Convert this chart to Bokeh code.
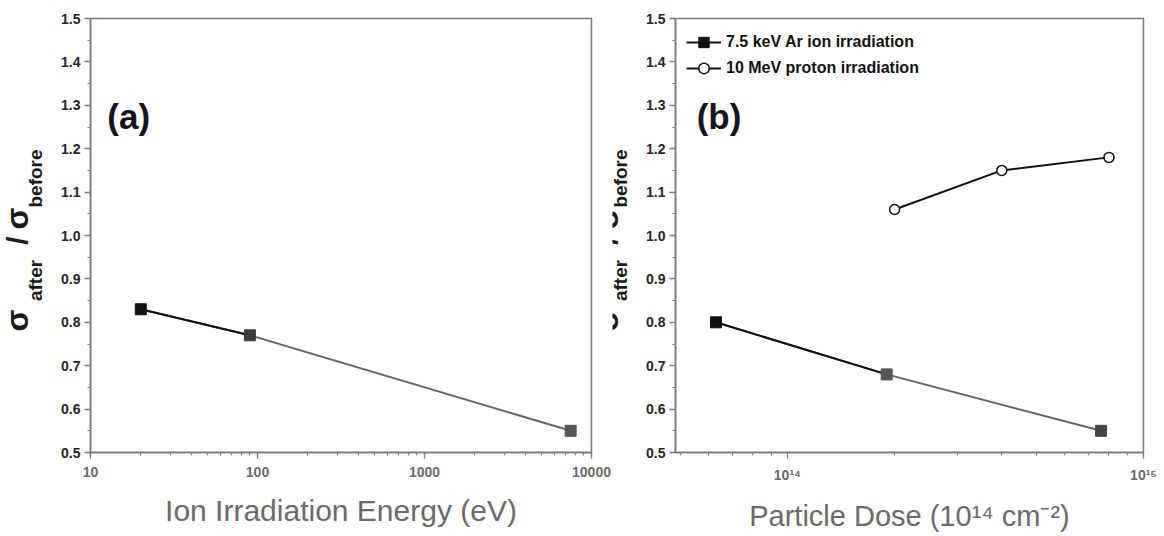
import math
from bokeh.plotting import figure
from bokeh.layouts import row
from bokeh.models import (Label, Legend, LegendItem, SingleIntervalTicker, LogTicker,
                          FixedTicker, PrintfTickFormatter, CustomJSTickFormatter,
                          ColumnDataSource)
from bokeh.embed import file_html
from bokeh.resources import INLINE

# ---------------- data ----------------
energy_ev = [20, 90, 7500]
ratio_energy = [0.83, 0.77, 0.55]

ar_dose = [6.3e13, 1.9e14, 7.6e14]
ar_ratio = [0.80, 0.68, 0.55]

proton_dose = [2.0e14, 4.0e14, 8.0e14]
proton_ratio = [1.06, 1.15, 1.18]

legend_labels = ["7.5 keV Ar ion irradiation", "10 MeV proton irradiation"]
x_title_a = "Ion Irradiation Energy (eV)"
x_title_b = "Particle Dose (10\u00b9\u2074 cm\u207b\u00b2)"
panel_tags = ["(a)", "(b)"]
y_title_parts = ["\u03c3", "after", "/", "\u03c3", "before"]

# ---------------- styles ----------------
square_colors_a = ["#111111", "#3c3c3c", "#555555"]
square_colors_b = ["#111111", "#555555", "#444444"]
AX = "#7a7a7a"
FONT = "Liberation Sans"
H = 536

Y0, Y1 = 0.5, 1.5
FRAME_TOP, FRAME_H = 18, 434


def v_of(py):
    """page pixel y -> data value (for annotation placement only)"""
    return Y1 - (py - FRAME_TOP) / FRAME_H * (Y1 - Y0)


def style(p):
    p.xgrid.visible = False
    p.ygrid.visible = False
    p.outline_line_color = AX
    p.outline_line_width = 1.5
    p.background_fill_color = "white"
    p.border_fill_color = "white"
    for ax in (p.xaxis[0], p.yaxis[0]):
        ax.axis_line_color = AX
        ax.axis_line_width = 1.5
        ax.major_tick_line_color = AX
        ax.minor_tick_line_color = AX
        ax.major_tick_line_width = 1.3
        ax.minor_tick_line_width = 1.2
        ax.major_tick_out = 6
        ax.major_tick_in = 0
        ax.minor_tick_out = 3
        ax.minor_tick_in = 0
        ax.major_label_text_font = FONT
        ax.major_label_text_font_style = "bold"
        ax.major_label_text_font_size = "14px"
    p.yaxis[0].ticker = SingleIntervalTicker(interval=0.1, num_minor_ticks=2)
    p.yaxis[0].formatter = PrintfTickFormatter(format="%.1f")
    p.yaxis[0].major_label_text_color = "#262626"
    p.yaxis[0].major_label_standoff = 4
    xa = p.xaxis[0]
    xa.major_label_text_color = "#6a6a6a"
    xa.major_label_standoff = 8
    xa.axis_label_text_font = FONT
    xa.axis_label_text_font_style = "normal"
    xa.axis_label_text_font_size = "30px"
    xa.axis_label_text_color = "#6a6a6a"
    xa.axis_label_standoff = 14


def title_fig(width, x0, sig_dx=0):
    """narrow strip holding the rotated y title (sigma_after / sigma_before).
    Its frame is aligned with the panels' frames, so y is mapped in page pixels
    from the frame top (18) to the frame bottom (452)."""
    f = figure(width=width, height=H, x_range=(0, width),
               y_range=(FRAME_TOP + FRAME_H, FRAME_TOP),
               output_backend="svg", toolbar_location=None,
               x_axis_location=None, y_axis_location=None,
               min_border=0, min_border_left=0, min_border_right=0,
               min_border_top=FRAME_TOP, min_border_bottom=H - FRAME_TOP - FRAME_H)
    f.xgrid.visible = False
    f.ygrid.visible = False
    f.outline_line_color = None
    f.background_fill_color = "white"
    f.border_fill_color = "white"
    # (text, font px, centre x, centre y) in page pixels relative to panel
    spec = [(y_title_parts[0], 32, x0 + 16 + sig_dx, 320),
            (y_title_parts[1], 19, x0 + 35, 280),
            (y_title_parts[2], 30, x0 + 17 + sig_dx, 240),
            (y_title_parts[3], 32, x0 + 16 + sig_dx, 218),
            (y_title_parts[4], 19, x0 + 35, 178)]
    for t, s, cx, cy in spec:
        f.add_layout(Label(x=cx, y=cy, text=t, angle=math.pi / 2, text_align="center",
                           text_baseline="middle", text_font=FONT,
                           text_font_style="bold", text_font_size=f"{s}px",
                           text_color="#1a1a1a"))
    return f


# ---------------- panel (a) ----------------
ta = title_fig(50, 0)
pa = figure(width=562, height=H, x_axis_type="log", x_range=(10, 10000),
            y_range=(Y0, Y1), output_backend="svg", toolbar_location=None,
            min_border_left=40, min_border_right=21, min_border_top=18,
            min_border_bottom=84)
style(pa)
pa.xaxis[0].ticker = LogTicker(num_minor_ticks=10)
pa.xaxis[0].formatter = CustomJSTickFormatter(code="return Math.round(tick).toString();")
pa.xaxis[0].axis_label = x_title_a

pa.line(energy_ev, ratio_energy, line_color="#666666", line_width=2)
pa.line(energy_ev[:2], ratio_energy[:2], line_color="#111111", line_width=2)
src_a = ColumnDataSource(dict(x=energy_ev, y=ratio_energy, c=square_colors_a))
pa.scatter("x", "y", source=src_a, marker="square", size=11, fill_color="c",
           line_color="c")

pa.add_layout(Label(x=12.6, y=v_of(116), text=panel_tags[0], text_font=FONT,
                    text_font_style="bold", text_font_size="35px",
                    text_color="#14141f", text_baseline="middle"))

# ---------------- panel (b) ----------------
tb = title_fig(28, -27, sig_dx=5)
pb = figure(width=524, height=H, x_axis_type="log", x_range=(4.85e13, 1e15),
            y_range=(Y0, Y1), output_backend="svg", toolbar_location=None,
            min_border_left=35, min_border_right=21, min_border_top=18,
            min_border_bottom=84)
style(pb)
pb.xaxis[0].axis_label_text_font_size = "29px"
minor_b = [k * 10 ** e for e in (13, 14) for k in range(2, 10)]
pb.xaxis[0].ticker = FixedTicker(ticks=[1e14, 1e15], minor_ticks=minor_b)
pb.xaxis[0].formatter = CustomJSTickFormatter(code="""
const sup = {"0":"\u2070","1":"\u00b9","2":"\u00b2","3":"\u00b3","4":"\u2074","5":"\u2075",
             "6":"\u2076","7":"\u2077","8":"\u2078","9":"\u2079","-":"\u207b"};
const e = Math.round(Math.log10(tick)).toString();
return "10" + e.split("").map(c => sup[c]).join("");
""")
pb.xaxis[0].axis_label = x_title_b

pb.line(ar_dose, ar_ratio, line_color="#666666", line_width=2)
ar_black = pb.line(ar_dose[:2], ar_ratio[:2], line_color="#111111", line_width=2)
src_b = ColumnDataSource(dict(x=ar_dose, y=ar_ratio, c=square_colors_b))
ar_sq = pb.scatter("x", "y", source=src_b, marker="square", size=11,
                   fill_color="c", line_color="c")

p_line = pb.line(proton_dose, proton_ratio, line_color="#111111", line_width=2)
p_circ = pb.scatter(proton_dose, proton_ratio, marker="circle", size=10,
                    fill_color="white", line_color="#111111", line_width=1.5)

leg = Legend(items=[LegendItem(label=legend_labels[0], renderers=[ar_black, ar_sq], index=0),
                    LegendItem(label=legend_labels[1], renderers=[p_line, p_circ])],
             location="top_left", margin=11, padding=0, spacing=0,
             label_height=26, glyph_height=26, glyph_width=35, label_standoff=5,
             label_text_font=FONT, label_text_font_style="bold",
             label_text_font_size="16px", label_text_color="#111111",
             border_line_color=None, background_fill_alpha=0)
pb.add_layout(leg)

pb.add_layout(Label(x=5.56e13, y=v_of(116), text=panel_tags[1], text_font=FONT,
                    text_font_style="bold", text_font_size="35px",
                    text_color="#14141f", text_baseline="middle"))

layout = row(ta, pa, tb, pb, spacing=0)
open("out.html", "w").write(file_html(layout, INLINE))
